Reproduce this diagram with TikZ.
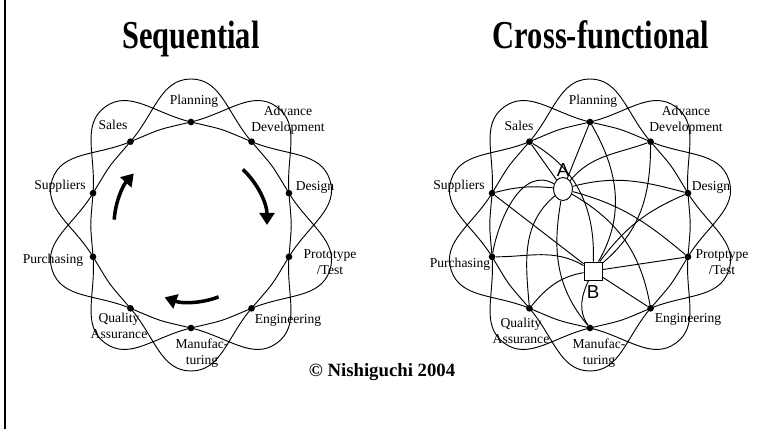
\documentclass[tikz,border=0pt]{standalone}
\usepackage{graphicx}
\usepackage{fontspec}
\setmainfont{Liberation Serif}
\newfontfamily\lettersans{Liberation Sans}
\usetikzlibrary{arrows.meta,shapes.geometric}

\begin{document}
\begin{tikzpicture}[x=0.03cm,y=0.03cm,
  orbit/.style={line width=0.8pt},
  dot/.style={circle,fill,inner sep=0pt,minimum size=0.2cm},
  func/.style={font=\fontsize{11.6}{13.7}\selectfont,align=center,inner sep=0pt},
  link/.style={line width=0.8pt},
  flow/.style={line width=3pt,-{Triangle[length=0.36cm,width=0.44cm]}},
  title/.style={font=\bfseries\fontsize{26}{30}\selectfont,anchor=base,inner sep=0pt},
  letter/.style={font=\lettersans\fontsize{16}{18}\selectfont,inner sep=0pt}]
  \useasboundingbox (0,0) rectangle (763,429);
  % frame line on the left
  \draw[line width=1.5pt] (5,0) -- (5,429);
  % titles
  \node[title] (tseq) at (191,380) {\scalebox{1}[1.3]{Sequential}};
  \node[title] (tcross) at (601,380) {\scalebox{1}[1.3]{Cross-functional}};
  \node[font=\bfseries\fontsize{16}{19}\selectfont,anchor=base,inner sep=0pt] (copy) at (382,52) {\textcopyright{} Nishiguchi 2004};
  % sequential
  \begin{scope}[shift={(191,204)}]
    \draw[orbit] plot[smooth cycle,tension=0.9,samples at={0,...,29},variable=\i]
      ({126-36*\i}:{ifthenelse(mod(\i,3)==0,146,103)});
    \foreach \n/\a in {pl/90,ad/54,de/18,pt/-18,en/-54,ma/-90,qa/-126,pu/-162,su/162,sa/126}
      \node[dot] (L\n) at (\a:103) {};
    % turning direction
    \draw[flow] (176:77) arc[start angle=176,end angle=138,radius=77];
    \draw[flow] (47:76) arc[start angle=47,end angle=0,radius=76];
    \draw[flow] (-69:77) arc[start angle=-69,end angle=-110,radius=77];
  \end{scope}
  % cross-functional
  \begin{scope}[shift={(590,204)}]
    \draw[orbit] plot[smooth cycle,tension=0.9,samples at={0,...,29},variable=\i]
      ({126-36*\i}:{ifthenelse(mod(\i,3)==0,146,103)});
    \foreach \n/\a in {pl/90,ad/54,de/18,pt/-18,en/-54,ma/-90,qa/-126,pu/-162,su/162,sa/126}
      \node[dot] (R\n) at (\a:103) {};
  \end{scope}
  \node[draw,ellipse,line width=0.8pt,minimum width=0.57cm,minimum height=0.69cm,inner sep=0pt] (A) at (563,240) {};
  \node[draw,line width=0.8pt,minimum size=0.54cm,inner sep=0pt] (B) at (593,158) {};
  \node[letter] (Atext) at (563,259) {A};
  \node[letter] (Btext) at (593,137) {B};
  % links to A
  \draw[link] (A) -- (Rsa);
  \draw[link] (A) -- (Rpl);
  \draw[link] (A) to[out=50,in=200] (Rad);
  \draw[link] (A) to[out=15,in=165] (Rde);
  \draw[link] (A) to[out=-15,in=140] (Rpt);
  \draw[link] (A) to[out=-30,in=100] (Ren);
  \draw[link] (A) to[out=-100,in=130] (Rma);
  \draw[link] (A) to[out=220,in=95] (Rqa);
  \draw[link] (A) to[out=150,in=80] (Rpu);
  \draw[link] (A) to[bend right=10] (Rsu);
  % links to B
  \draw[link] (B) -- (Rsu);
  \draw[link] (B) to[out=150,in=0] (Rpu);
  \draw[link] (B) to[out=190,in=50] (Rqa);
  \draw[link] (B) to[out=245,in=125] (Rma);
  \draw[link] (B) -- (Ren);
  \draw[link] (B) -- (Rpt);
  \draw[link] (B) to[bend left=15] (Rde);
  \draw[link] (B) to[out=40,in=-90] (Rad);
  \draw[link] (B) to[out=60,in=-60] (Rpl);
  \draw[link] (B) to[out=88,in=-30] (Rsa);
  % names of the functions
  \node[func] (Lplt) at (194,328) {Planning};
  \node[func] (Ladt) at (288,309) {Advance\\Development};
  \node[func] (Lsat) at (113,304) {Sales};
  \node[func] (Lsut) at (60,243) {Suppliers};
  \node[func] (Ldet) at (315,242) {Design};
  \node[func] (Lput) at (53,169) {Purchasing};
  \node[func] (Lptt) at (330,167) {Prototype\\/Test};
  \node[func] (Lent) at (288,109) {Engineering};
  \node[func] (Lqat) at (119,103) {Quality\\Assurance};
  \node[func] (Lmat) at (202,76) {Manufac-\\turing};
  \node[func] (Rplt) at (593,328) {Planning};
  \node[func] (Radt) at (686,309) {Advance\\Development};
  \node[func] (Rsat) at (519,303) {Sales};
  \node[func] (Rsut) at (459,243) {Suppliers};
  \node[func] (Rdet) at (711,242) {Design};
  \node[func] (Rput) at (460,165) {Purchasing};
  \node[func] (Rptt) at (722,167) {Protptype\\/Test};
  \node[func] (Rent) at (688,110) {Engineering};
  \node[func] (Rqat) at (521,98) {Quality\\Assurance};
  \node[func] (Rmat) at (599,76) {Manufac-\\turing};
\end{tikzpicture}
\end{document}
